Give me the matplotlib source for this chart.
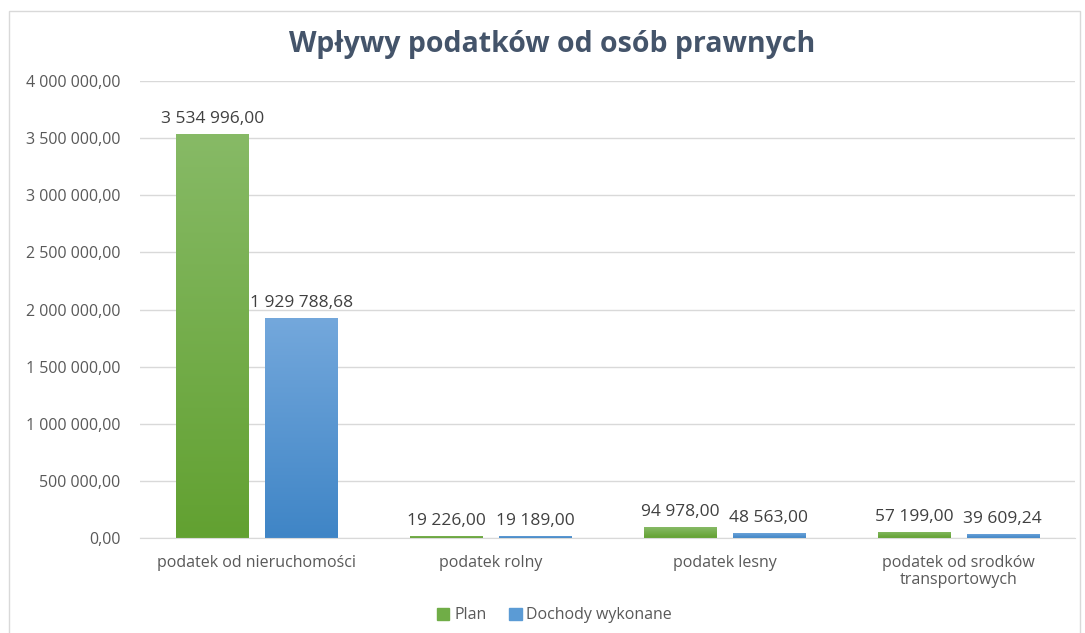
import numpy as np
import matplotlib.pyplot as plt
from matplotlib.colors import LinearSegmentedColormap
from matplotlib.patches import Rectangle, Patch

categories = ["podatek od nieruchomości", "podatek rolny", "podatek lesny",
              "podatek od srodków\ntransportowych"]
plan = [3534996.00, 19226.00, 94978.00, 57199.00]
wykonane = [1929788.68, 19189.00, 48563.00, 39609.24]
series_names = ["Plan", "Dochody wykonane"]
yticks = [0, 500000, 1000000, 1500000, 2000000, 2500000, 3000000, 3500000, 4000000]


def fmt(v):
    s = f"{v:,.2f}"
    return s.replace(",", " ").replace(".", ",")


plt.rcParams['font.family'] = ['Open Sans', 'DejaVu Sans']

fig = plt.figure(figsize=(10.85, 6.33), dpi=100)
ax = fig.add_axes([0.129, 0.150, 0.862, 0.722])

green = LinearSegmentedColormap.from_list("g", ["#62a131", "#87ba66"])
blue = LinearSegmentedColormap.from_list("b", ["#3f85c6", "#74a8dc"])
grad = np.linspace(0, 1, 256).reshape(-1, 1)

x = np.arange(len(categories))
w = 0.31
off = 0.19
for vals, cmap, dx in [(plan, green, -off), (wykonane, blue, off)]:
    bars = ax.bar(x + dx, vals, w, color="none", edgecolor="none", zorder=2)
    for b, v in zip(bars, vals):
        im = ax.imshow(grad, cmap=cmap, origin="lower", aspect="auto",
                       extent=[b.get_x(), b.get_x() + w, 0, v], zorder=2)
        im.set_clip_path(b)
        ax.text(b.get_x() + w / 2, v + 60000, fmt(v), ha="center", va="bottom",
                fontsize=12.5, color="#404040")

ax.set_xlim(-0.5, 3.5)
ax.set_ylim(0, 4000000)
ax.set_yticks(yticks)
ax.set_yticklabels([fmt(t) for t in yticks], fontsize=11.5, color="#595959")
ax.set_xticks(x)
ax.set_xticklabels(categories, fontsize=11.5, color="#595959", linespacing=1.1)
ax.tick_params(length=0, pad=12)
ax.tick_params(axis="y", pad=14)
ax.yaxis.grid(True, color="#d9d9d9", linewidth=1, zorder=0)
ax.set_axisbelow(True)
for s in ["top", "right", "left"]:
    ax.spines[s].set_visible(False)
ax.spines["bottom"].set_color("#d9d9d9")

fig.text(0.509, 0.929, "Wpływy podatków od osób prawnych", ha="center", va="center",
         fontsize=20.5, fontweight="bold", color="#44546a")

handles = [Patch(color="#70ad47"), Patch(color="#5b9bd5")]
fig.legend(handles, series_names, loc="center", bbox_to_anchor=(0.511, 0.028),
           ncol=2, frameon=False, fontsize=11.5, handlelength=0.8, handleheight=0.8,
           columnspacing=1.4, handletextpad=0.3, labelcolor="#595959")

fig.patches.append(Rectangle((0.008, -0.01), 0.987, 0.993, transform=fig.transFigure,
                             fill=False, edgecolor="#d9d9d9", linewidth=1))

fig.savefig("out.png", dpi=100)
